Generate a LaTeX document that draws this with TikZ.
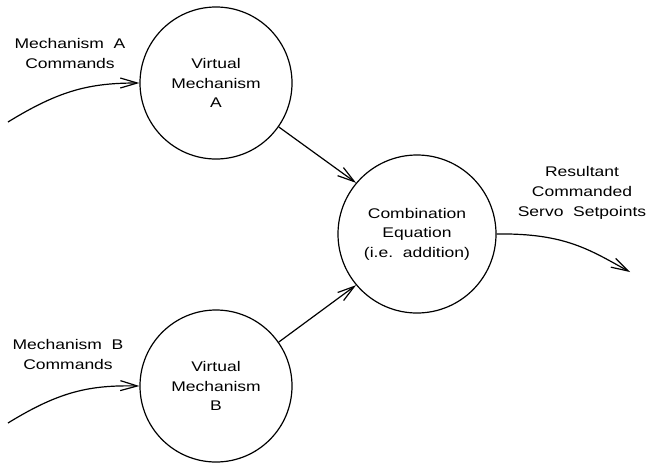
\documentclass[tikz,border=0pt]{standalone}
\usepackage{fontspec}
\setmainfont{Liberation Sans}[FakeStretch=1.25]
\usetikzlibrary{arrows.meta}
\begin{document}
\begin{tikzpicture}[x=1pt,y=-1pt,
  proc/.style={draw,circle,line width=1.2pt,inner sep=0pt,align=center,font=\fontsize{14}{19.5}\selectfont},
  lbl/.style={align=center,font=\fontsize{14}{20}\selectfont},
  flow/.style={line width=1.2pt,-{Straight Barb[length=17pt,width=10pt,line width=1.2pt]}}]
\useasboundingbox (0,0) rectangle (652,464);
\node[proc,minimum size=152pt] (A) at (216,83) {Virtual\\Mechanism\\A};
\node[proc,minimum size=152pt] (B) at (216,386) {Virtual\\Mechanism\\B};
\node[proc,minimum size=158pt] (C) at (417,234) {Combination\\Equation\\(i.e.\ \ addition)};
\coordinate (inA) at (8,122);
\coordinate (inB) at (8,423);
\coordinate (out) at (630,272);
\node[lbl] (lA) at (70,53) {Mechanism\ \ A\\Commands};
\node[lbl] (lB) at (68,354) {Mechanism\ \ B\\Commands};
\node[lbl] (lC) at (582,193) {Resultant\\Commanded\\Servo\ \ Setpoints};
\draw[flow] (inA) .. controls (60,90) and (90,83) .. (A.west);
\draw[flow] (inB) .. controls (60,391) and (90,385) .. (B.west);
\draw[flow] (A.-35) -- (C.140);
\draw[flow] (B.35) -- (C.-140);
\draw[flow] (C.east) .. controls (565,233) and (590,250) .. (out);
\end{tikzpicture}
\end{document}
